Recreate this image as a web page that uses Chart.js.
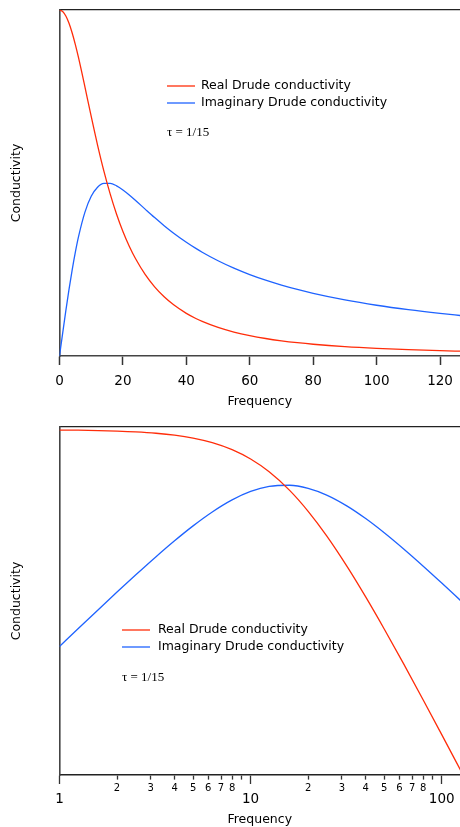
<!DOCTYPE html>
<html>
<head>
<meta charset="utf-8">
<script src="https://cdn.jsdelivr.net/npm/chart.js@4.4.1/dist/chart.umd.min.js"></script>
<style>
  html, body { margin: 0; padding: 0; background: #fff; overflow: hidden; }
  canvas { position: absolute; left: 0; }
  #linChart { top: 0; }
  #logChart { top: 415px; }
</style>
</head>
<body>
<canvas id="linChart" width="460" height="415"></canvas>
<canvas id="logChart" width="460" height="420"></canvas>
<script>
const realLabel = 'Real Drude conductivity';
const imagLabel = 'Imaginary Drude conductivity';
const tauLabel = 'τ = 1/15';
const xTitle = 'Frequency';
const yTitle = 'Conductivity';

// top panel, linear frequency axis
const freqLin = [0, 1, 2, 3, 4, 5, 6, 8, 10, 12, 14, 16, 18, 20, 22, 24, 27, 30, 33, 36, 40, 43, 45, 50, 55, 60, 65, 70, 75, 80, 90, 100, 110, 120, 127];
const realLin = [1, 0.99558, 0.98253, 0.96154, 0.93361, 0.9, 0.86207, 0.77855, 0.69231, 0.60976, 0.53444, 0.46778, 0.40984, 0.36,
  0.31735, 0.2809, 0.23585, 0.2, 0.17123, 0.14793, 0.12329, 0.10849, 0.1, 0.08257, 0.06923, 0.05882, 0.05056, 0.0439, 0.03846,
  0.03396, 0.02703, 0.022, 0.01826, 0.01538, 0.01376];
const imagLin = [0, 0.06637, 0.131, 0.19231, 0.24896, 0.3, 0.34483, 0.41522, 0.46154, 0.4878, 0.49881, 0.49896, 0.4918, 0.48,
  0.46544, 0.44944, 0.42453, 0.4, 0.37671, 0.35503, 0.32877, 0.31099, 0.3, 0.27523, 0.25385, 0.23529, 0.2191, 0.20488, 0.19231,
  0.18113, 0.16216, 0.1467, 0.13387, 0.12308, 0.11648];
const linTicks = [0, 20, 40, 60, 80, 100, 120];

// bottom panel, log-log
const freqLog = [1, 1.25, 1.6, 2, 2.5, 3.2, 4, 5, 6.3, 8, 10, 12.5, 16, 20, 25, 32, 40, 50, 63, 80, 100, 127];
const realLog = [0.99558, 0.9931, 0.98875, 0.98253, 0.97297, 0.95647, 0.93361, 0.9, 0.85005, 0.77855, 0.69231,
  0.59016, 0.46778, 0.36, 0.26471, 0.18014, 0.12329, 0.08257, 0.05365, 0.03396, 0.022, 0.01376];
const imagLog = [0.06637, 0.08276, 0.10547, 0.131, 0.16216, 0.20405, 0.24896, 0.3, 0.35702, 0.41522, 0.46154,
  0.4918, 0.49896, 0.48, 0.44118, 0.38431, 0.32877, 0.27523, 0.22532, 0.18113, 0.1467, 0.11648];
const logTicks = [1, 2, 3, 4, 5, 6, 7, 8, 9, 10, 20, 30, 40, 50, 60, 70, 80, 90, 100];
const logMajor = [1, 10, 100];
const logLabels = ['1', '2', '3', '4', '5', '6', '7', '8', '', '10', '2', '3', '4', '5', '6', '7', '8', '', '100'];

const red = '#ff2d0a';
const blue = '#1f63ff';

Chart.defaults.font.family = '"DejaVu Sans", sans-serif';
Chart.defaults.color = '#000';
Chart.defaults.animation = false;

// legend lines + tau note drawn inside the plot
const legendBox = {
  id: 'legendBox',
  afterDatasetsDraw(chart, args, opts) {
    const ctx = chart.ctx;
    ctx.save();
    ctx.font = '12.5px "DejaVu Sans"';
    ctx.textBaseline = 'middle';
    chart.data.datasets.forEach((ds, i) => {
      const y = opts.y + i * 17;
      ctx.strokeStyle = ds.borderColor;
      ctx.lineWidth = 1.3;
      ctx.beginPath();
      ctx.moveTo(opts.x, y);
      ctx.lineTo(opts.x + 28, y);
      ctx.stroke();
      ctx.fillStyle = '#000';
      ctx.fillText(ds.label, opts.textX, y);
    });
    ctx.font = '13px "Liberation Serif"';
    ctx.fillText(tauLabel, opts.x, opts.tauY);
    ctx.restore();
  }
};

function points(xs, ys) {
  return xs.map((x, i) => ({ x: x, y: ys[i] }));
}

function datasets(xs, re, im) {
  const common = { borderWidth: 1.3, pointRadius: 0, fill: false, cubicInterpolationMode: 'monotone' };
  return [
    Object.assign({ label: realLabel, data: points(xs, re), borderColor: red }, common),
    Object.assign({ label: imagLabel, data: points(xs, im), borderColor: blue }, common)
  ];
}

const yAxis = (type, min, max) => ({
  type: type, min: min, max: max,
  ticks: { display: false },
  grid: { display: false },
  border: { color: '#444', width: 1.6 },
  title: { display: true, text: yTitle, font: { size: 12.5 }, padding: { top: 9.5, bottom: 0 } },
  afterFit: s => { s.width = 59.5; }
});

const topLine = (type, min, max) => ({
  type: type, min: min, max: max, position: 'top',
  ticks: { display: false },
  grid: { display: false },
  border: { color: '#222', width: 1.2 },
  afterFit: s => { s.height = 0; }
});

new Chart(document.getElementById('linChart'), {
  type: 'line',
  data: { datasets: datasets(freqLin, realLin, imagLin) },
  options: {
    responsive: false,
    layout: { padding: { top: 10, right: 0, left: 0, bottom: 0 } },
    plugins: {
      legend: { display: false },
      tooltip: { enabled: false },
      legendBox: { x: 167, textX: 201, y: 86, tauY: 133 }
    },
    scales: {
      x: {
        type: 'linear', min: 0, max: 126.3,
        afterBuildTicks: s => { s.ticks = linTicks.map(v => ({ value: v })); },
        afterFit: s => { s.height = 59; s.paddingLeft = 0; s.paddingRight = 0; },
        ticks: { autoSkip: false, maxRotation: 0, padding: 8, font: { size: 13.5 }, callback: v => String(v) },
        grid: { drawOnChartArea: false, tickLength: 9, tickWidth: 1.5, tickColor: '#333' },
        border: { color: '#444', width: 1.6 },
        title: { display: true, text: xTitle, font: { size: 12.5 }, padding: { top: 0, bottom: 6 } }
      },
      xt: topLine('linear', 0, 126.3),
      y: yAxis('linear', 0, 1)
    }
  },
  plugins: [legendBox]
});

new Chart(document.getElementById('logChart'), {
  type: 'line',
  data: { datasets: datasets(freqLog, realLog, imagLog) },
  options: {
    responsive: false,
    layout: { padding: { top: 12, right: 0, left: 0, bottom: 0 } },
    plugins: {
      legend: { display: false },
      tooltip: { enabled: false },
      legendBox: { x: 122, textX: 158, y: 215, tauY: 263 }
    },
    scales: {
      x: {
        type: 'logarithmic', min: 1, max: 124.6,
        afterBuildTicks: s => { s.ticks = logTicks.map(v => ({ value: v, major: logMajor.includes(v) })); },
        afterFit: s => { s.height = 60; s.paddingLeft = 0; s.paddingRight = 0; },
        ticks: {
          autoSkip: false, maxRotation: 0, padding: 0,
          callback: (v, i) => logLabels[i],
          font: c => (c.tick && c.tick.major) ? { size: 13.5, lineHeight: 2.37 } : { size: 10, lineHeight: 0.8 }
        },
        grid: {
          drawOnChartArea: false, tickLength: 9, tickWidth: 1.3, tickColor: '#333',
          tickBorderDash: c => (c.tick && c.tick.major) ? [] : [4, 40]
        },
        border: { color: '#222', width: 1.6 },
        title: { display: true, text: xTitle, font: { size: 12.5 }, padding: { top: 0, bottom: 7.5 } }
      },
      xt: topLine('logarithmic', 1, 124.6),
      y: yAxis('logarithmic', 0.01328, 1.034)
    }
  },
  plugins: [legendBox]
});
</script>
</body>
</html>
